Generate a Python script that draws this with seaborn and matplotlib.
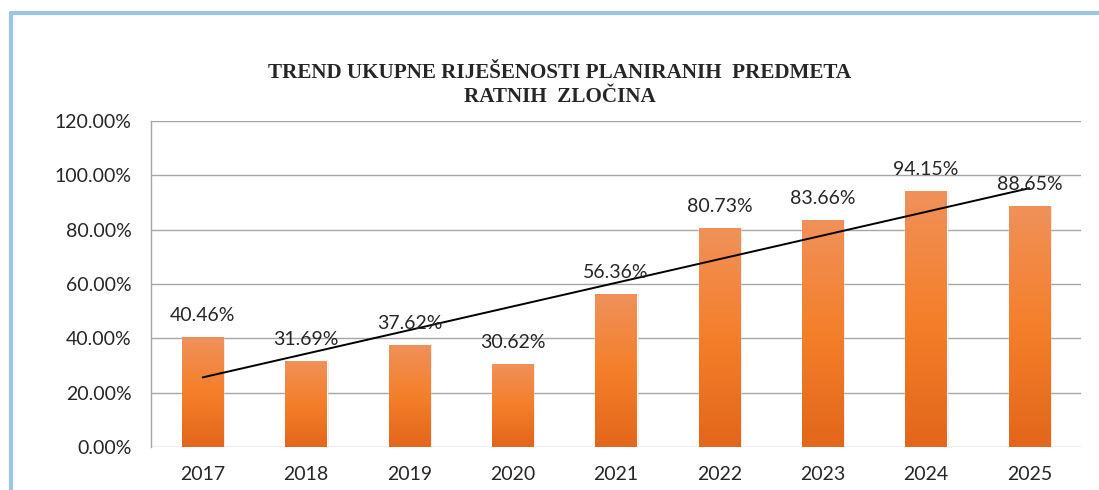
import numpy as np
import pandas as pd
import matplotlib
matplotlib.use('Agg')
import matplotlib.pyplot as plt
from matplotlib.colors import LinearSegmentedColormap
from matplotlib.patches import Rectangle
import seaborn as sns

## chart data
years = ['2017', '2018', '2019', '2020', '2021', '2022', '2023', '2024', '2025']
share = [0.4046, 0.3169, 0.3762, 0.3062, 0.5636, 0.8073, 0.8366, 0.9415, 0.8865]
title = 'TREND UKUPNE RIJEŠENOSTI PLANIRANIH  PREDMETA\nRATNIH  ZLOČINA'

df = pd.DataFrame({'Year': years, 'Share': share})

sns.set_style('white')
plt.rcParams['font.family'] = ['Lato', 'DejaVu Sans']

fig = plt.figure(figsize=(10.99, 4.90), dpi=100)
ax = fig.add_axes([151/1099, 1-447/490, 930/1099, 326/490])

sns.barplot(data=df, x='Year', y='Share', color='#F47F2A', width=0.4, ax=ax, zorder=2)

# orange gradient over every bar (lighter on top, darker at the bottom)
cmap = LinearSegmentedColormap.from_list('orng', ['#E3661A', '#F47F2A', '#F0915A'])
grad = np.linspace(0, 1, 256).reshape(-1, 1)
for bar in ax.patches:
    x0, y0 = bar.get_x(), bar.get_y()
    w, h = bar.get_width(), bar.get_height()
    # soft shadow
    ax.add_patch(Rectangle((x0 + 0.02, y0), w, h, color='#BFBFBF', alpha=0.35, lw=0, zorder=1.5))
    im = ax.imshow(grad, cmap=cmap, origin='lower', aspect='auto',
                   extent=[x0, x0 + w, y0, y0 + h], zorder=2.5)
    im.set_clip_path(bar)
    ax.annotate(f'{h*100:.2f}%', (x0 + w/2, y0 + h), xytext=(0, 13), textcoords='offset pixels',
                ha='center', va='bottom', fontsize=14, color='#262626', zorder=4)

# linear trend line
xs = np.arange(len(share))
k, b = np.polyfit(xs, share, 1)
ax.plot(xs, k*xs + b, color='black', lw=1.4, zorder=3)

ax.set_xlim(-0.5, len(years) - 0.5)
ax.set_ylim(0, 1.2)
ax.set_yticks(np.arange(0, 1.21, 0.2))
ax.set_yticklabels([f'{v*100:.2f}%' for v in np.arange(0, 1.21, 0.2)])
ax.set_xlabel('')
ax.set_ylabel('')
ax.grid(axis='y', color='#A6A6A6', lw=1, zorder=0)
ax.set_axisbelow(True)
ax.tick_params(axis='both', length=0, labelsize=14, labelcolor='#262626')
ax.tick_params(axis='y', pad=14)
ax.tick_params(axis='x', pad=14)
for s in ['top', 'right', 'bottom']:
    ax.spines[s].set_visible(False)
ax.spines['left'].set_color('#A6A6A6')
ax.spines['left'].set_linewidth(1)

fig.text(560/1099, 1 - 85/490, title, ha='center', va='center', fontsize=15.2,
         fontweight='bold', family='Liberation Serif', linespacing=1.25)

# light blue frame at the left and top edges
fig.add_artist(plt.Line2D([11/1099, 11/1099], [0, 1 - 13/490], color='#9DC3E6', lw=3,
                          transform=fig.transFigure))
fig.add_artist(plt.Line2D([11/1099, 1], [1 - 13/490, 1 - 13/490], color='#9DC3E6', lw=3,
                          transform=fig.transFigure))

fig.savefig('out.png', dpi=100)
